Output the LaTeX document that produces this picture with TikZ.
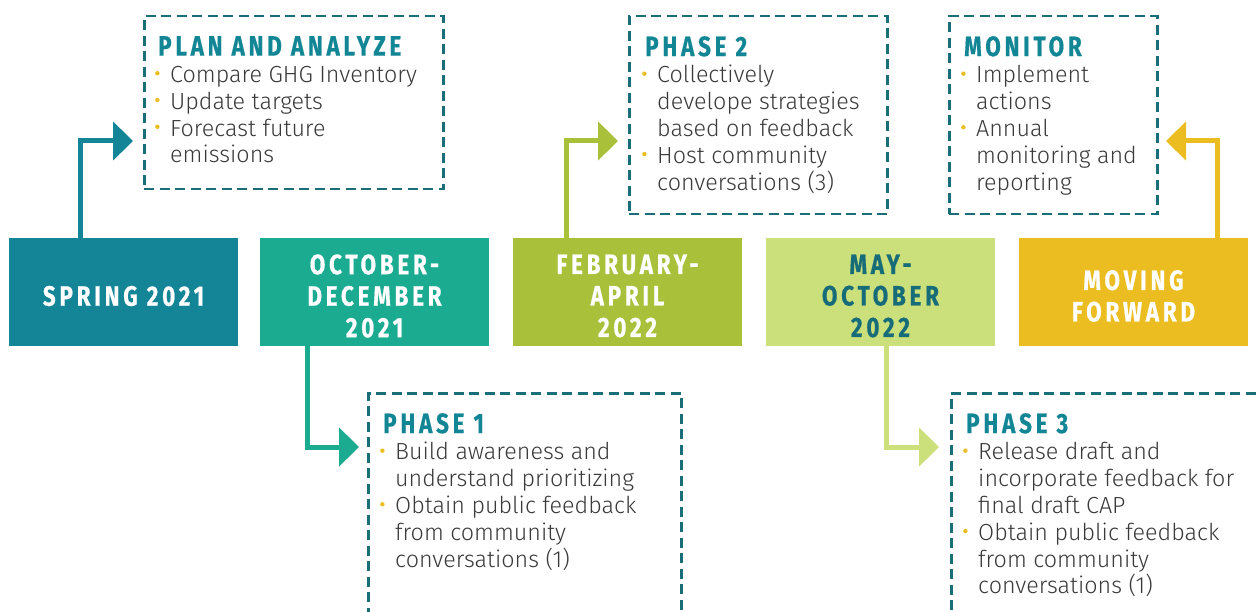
\documentclass[tikz,border=0pt]{standalone}
\usepackage{fontspec}
\usetikzlibrary{arrows.meta}
\newfontfamily\headfont{Fira Sans}[FakeStretch=0.8,LetterSpace=13.5,FakeBold=0.6]
\newfontfamily\bodyfont{Fira Sans Light}
\definecolor{c1}{RGB}{19,133,150}
\definecolor{c2}{RGB}{27,171,145}
\definecolor{c3}{RGB}{169,193,58}
\definecolor{c4}{RGB}{203,223,122}
\definecolor{c5}{RGB}{235,189,32}
\definecolor{dashc}{RGB}{26,110,120}
\definecolor{headc}{RGB}{19,134,150}
\definecolor{bodyc}{RGB}{58,58,58}
\definecolor{mayc}{RGB}{22,108,120}
\newcommand{\bul}{\makebox[12pt][l]{\hspace{-3pt}\raisebox{7pt}{\tikz\fill[c5] (0,0) circle[radius=2.2pt];}}}
\newcommand{\ind}{\hspace*{12pt}}
\newcommand{\hd}[1]{{\headfont\bfseries\fontsize{28}{28}\selectfont\color{headc}#1}}
\begin{document}
\begin{tikzpicture}[x=1pt,y=-1pt,
  fbox/.style={minimum width=229pt, minimum height=108pt, inner sep=0pt},
  ftxt/.style={inner sep=0pt, align=center, text=white,
    font=\headfont\bfseries\fontsize{28}{31.5}\selectfont},
  dbox/.style={draw=dashc, line width=2.5pt, dash pattern=on 10pt off 5.5pt, inner sep=0pt, anchor=north west},
  txt/.style={anchor=north west, inner sep=0pt, align=left, text=bodyc,
    font=\bodyfont\fontsize{23.3}{26.8}\selectfont},
  conn/.style={line width=5pt, line join=miter, -{Triangle[length=20pt,width=38pt]}}]
\clip (0,0) rectangle (1258,612);
\fill[white] (0,0) rectangle (1258,612);
% timeline boxes
\node[fbox, fill=c1] (spring) at (123.5,292) {};
\node[fbox, fill=c2] (octdec) at (374.5,292) {};
\node[fbox, fill=c3] (febapr) at (627.5,292) {};
\node[fbox, fill=c4] (mayoct) at (880.5,292) {};
\node[fbox, fill=c5] (moving) at (1133.5,292) {};
\node[ftxt] (springl) at ([yshift=-4pt]spring.center) {SPRING 2021};
\node[ftxt] (octdecl) at ([yshift=-4pt]octdec.center) {OCTOBER-\\DECEMBER\\2021};
\node[ftxt] (febaprl) at ([yshift=-4pt]febapr.center) {FEBRUARY-\\APRIL\\2022};
\node[ftxt, text=mayc] (mayoctl) at ([yshift=-4pt]mayoct.center) {MAY-\\OCTOBER\\2022};
\node[ftxt] (movingl) at ([yshift=-4pt]moving.center) {MOVING\\FORWARD};
% dashed boxes
\node[dbox, minimum width=299pt, minimum height=173pt] (planbox) at (143,15) {};
\node[dbox, minimum width=258pt, minimum height=198pt] (p2box) at (628,15) {};
\node[dbox, minimum width=208pt, minimum height=198pt] (monbox) at (948,15) {};
\node[dbox, minimum width=313pt, minimum height=260pt] (p1box) at (367,392) {};
\node[dbox, minimum width=340pt, minimum height=260pt] (p3box) at (950,392) {};
% texts
\node[txt] (plantxt) at ([shift={(15,21)}]planbox.north west)
  {\hd{PLAN AND ANALYZE}\\\bul Compare GHG Inventory\\\bul Update targets\\\bul Forecast future\\\ind emissions};
\node[txt] (p2txt) at ([shift={(17,21)}]p2box.north west)
  {\hd{PHASE 2}\\\bul Collectively\\\ind develope strategies\\\ind based on feedback\\\bul Host community\\\ind conversations (3)};
\node[txt] (montxt) at ([shift={(16,21)}]monbox.north west)
  {\hd{MONITOR}\\\bul Implement\\\ind actions\\\bul Annual\\\ind monitoring and\\\ind reporting};
\node[txt] (p1txt) at ([shift={(16,21)}]p1box.north west)
  {\hd{PHASE 1}\\\bul Build awareness and\\\ind understand prioritizing\\\bul Obtain public feedback\\\ind from community\\\ind conversations (1)};
\node[txt] (p3txt) at ([shift={(16,21)}]p3box.north west)
  {\hd{PHASE 3}\\\bul Release draft and\\\ind incorporate feedback for\\\ind final draft CAP\\\bul Obtain public feedback\\\ind from community\\\ind conversations (1)};
% connectors
\coordinate (t1) at (133,141);
\coordinate (t2) at (359,447);
\coordinate (t3) at (618,141);
\coordinate (t4) at (939,447);
\coordinate (t5) at (1166,141);
\draw[conn, draw=c1] ([xshift=72pt]spring.north west) |- (t1);
\draw[conn, draw=c2] ([xshift=47.5pt]octdec.south west) |- (t2);
\draw[conn, draw=c3] ([xshift=54pt]febapr.north west) |- (t3);
\draw[conn, draw=c4] ([xshift=121pt]mayoct.south west) |- (t4);
\draw[conn, draw=c5] ([xshift=199pt]moving.north west) |- (t5);
\end{tikzpicture}
\end{document}
